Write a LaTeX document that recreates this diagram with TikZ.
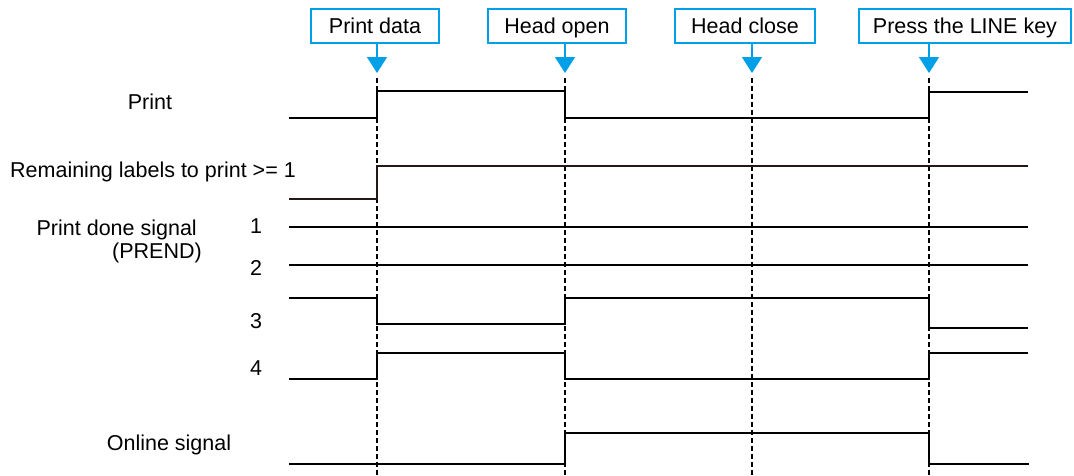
\documentclass[tikz,border=0pt]{standalone}
\usepackage{fontspec}
\setmainfont{Liberation Sans}
\usetikzlibrary{arrows.meta, positioning}
\definecolor{cueblue}{RGB}{0,160,233}
\definecolor{darkbrown}{RGB}{35,24,21}
\tikzset{
  x=1pt, y=-1pt, % one unit per pixel, y grows downwards
  every node/.style={font=\fontsize{21.5}{25}\selectfont, inner sep=0pt},
  event/.style={draw=cueblue, line width=1.5pt, fill=white,
    minimum height=34pt, text height=15.5pt, text depth=0pt}, % the boxes on top
  cue/.style={draw=cueblue, line width=1.5pt,
    -{Triangle[width=20pt,length=16pt]}}, % arrow down to the time line
  timeline/.style={line width=1.2pt, dash pattern=on 5pt off 3pt},
  wave/.style={line width=2.5pt, line join=miter},
}

\begin{document}
\begin{tikzpicture}
  \useasboundingbox (0,0) rectangle (1074,475);

  % events
  \node[event, minimum width=128pt] (pdata) at (375,26) {Print data};
  \node[event, minimum width=138pt] (hopen) at (557,26) {Head open};
  \node[event, minimum width=140pt] (hclose) at (745,26) {Head close};
  \node[event, minimum width=212pt] (linekey) at (965,26) {Press the LINE key};

  \foreach \ev/\x in {pdata/377, hopen/565, hclose/752, linekey/929} {
    \coordinate (tip-\ev) at (\x,73);
    \coordinate (end-\ev) at (\x,475);
    \draw[cue] (\ev.south -| tip-\ev) -- (tip-\ev);
    \draw[timeline] ([yshift=-5pt]tip-\ev) -- (end-\ev);
  }

  % signal names
  \node[anchor=base] (print) at (150,109) {Print};
  \node[anchor=base] (remain) at (153,177) {Remaining labels to print >= 1};
  \node[anchor=base east] (prend) at (197,235) {Print done signal};
  \node[anchor=base east] (prend2) at (202,258) {(PREND)};
  \node[anchor=base] (n1) at (256,233) {1};
  \node[anchor=base] (n2) at (256,275) {2};
  \node[anchor=base] (n3) at (256,328) {3};
  \node[anchor=base] (n4) at (256,375) {4};
  \node[anchor=base] (online) at (169,450) {Online signal};

  % waveforms
  \draw[wave] (289,118) -- (377,118) -- (377,91) -- (565,91) -- (565,118)
    -- (929,118) -- (929,92) -- (1028,92);
  \draw[wave, line width=2pt, darkbrown] (289,199) -- (377,199) -- (377,166)
    -- (1028,166);
  \draw[wave] (289,227) -- (1028,227);
  \draw[wave] (289,265) -- (1028,265);
  \draw[wave] (289,298) -- (377,298) -- (377,324) -- (565,324) -- (565,298)
    -- (929,298) -- (929,328) -- (1028,328);
  \draw[wave] (289,379) -- (377,379) -- (377,353) -- (565,353) -- (565,379)
    -- (929,379) -- (929,353) -- (1028,353);
  \draw[wave] (289,464) -- (565,464) -- (565,433) -- (929,433) -- (929,464)
    -- (1029,464);
\end{tikzpicture}
\end{document}
